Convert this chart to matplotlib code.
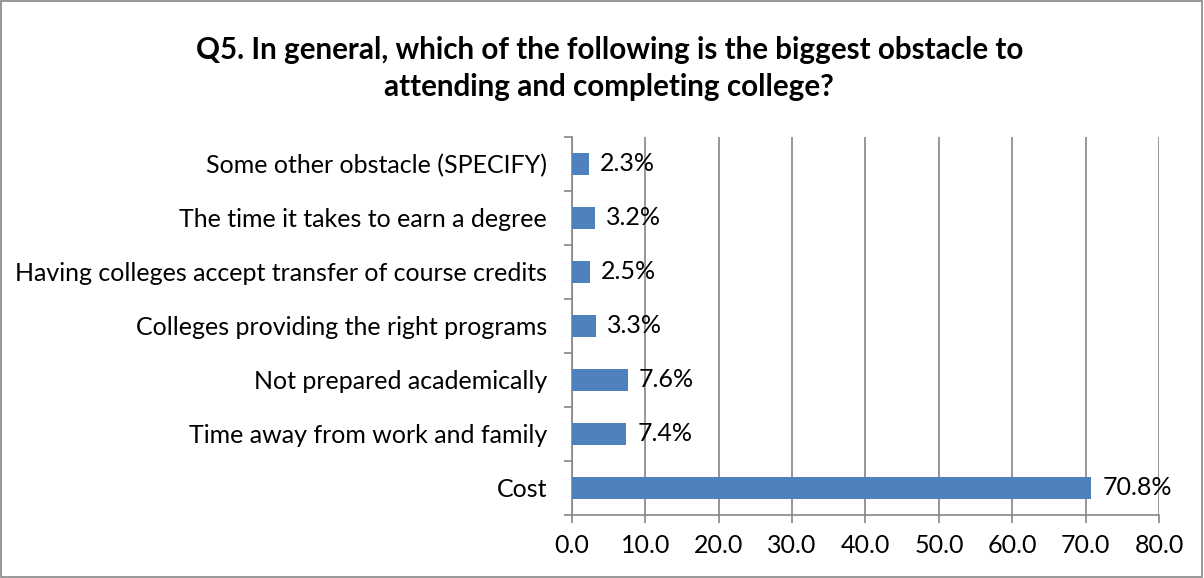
import matplotlib.pyplot as plt
import numpy as np

categories = [
    "Cost",
    "Time away from work and family",
    "Not prepared academically",
    "Colleges providing the right programs",
    "Having colleges accept transfer of course credits",
    "The time it takes to earn a degree",
    "Some other obstacle (SPECIFY)",
]
values = [70.8, 7.4, 7.6, 3.3, 2.5, 3.2, 2.3]
xticks = [0, 10, 20, 30, 40, 50, 60, 70, 80]

plt.rcParams['font.family'] = ['Lato', 'DejaVu Sans']

fig = plt.figure(figsize=(12.04, 5.78), dpi=100)
ax = fig.add_axes([0.475, 0.109, 0.4876, 0.654])

y = np.arange(len(categories))
ax.barh(y, values, height=0.4, color='#4f81bd', zorder=3)
for yi, v in zip(y, values):
    ax.text(v + 1.5, yi, f"{v:.1f}%", va='center', ha='left', fontsize=18, zorder=4)

ax.set_xlim(0, 80)
ax.set_ylim(-0.5, len(categories) - 0.5)
ax.set_xticks(xticks)
ax.set_xticklabels([f"{t:.1f}" for t in xticks], fontsize=18)
ax.set_yticks(y)
ax.set_yticklabels(categories, fontsize=18)
ax.set_yticks(np.arange(-0.5, len(categories)), minor=True)
ax.tick_params(axis='y', which='major', length=0, pad=18)
ax.tick_params(axis='y', which='minor', length=6, color='#868686', width=1.2)
ax.tick_params(axis='x', length=6, color='#868686', width=1.2, pad=8)

ax.grid(axis='x', color='#868686', linewidth=1.2, zorder=0)
for s in ['top', 'right']:
    ax.spines[s].set_visible(False)
for s in ['left', 'bottom']:
    ax.spines[s].set_color('#868686')
    ax.spines[s].set_linewidth(1.2)

fig.text(0.506, 0.882, "Q5. In general, which of the following is the biggest obstacle to\nattending and completing college?",
         ha='center', va='center', fontsize=21.3, fontweight='bold', linespacing=1.4)

fig.patches.append(plt.Rectangle((0.001, 0.002), 0.997, 0.996, transform=fig.transFigure,
                                 fill=False, edgecolor='#868686', linewidth=1.2))

fig.savefig('out.png', dpi=100)
